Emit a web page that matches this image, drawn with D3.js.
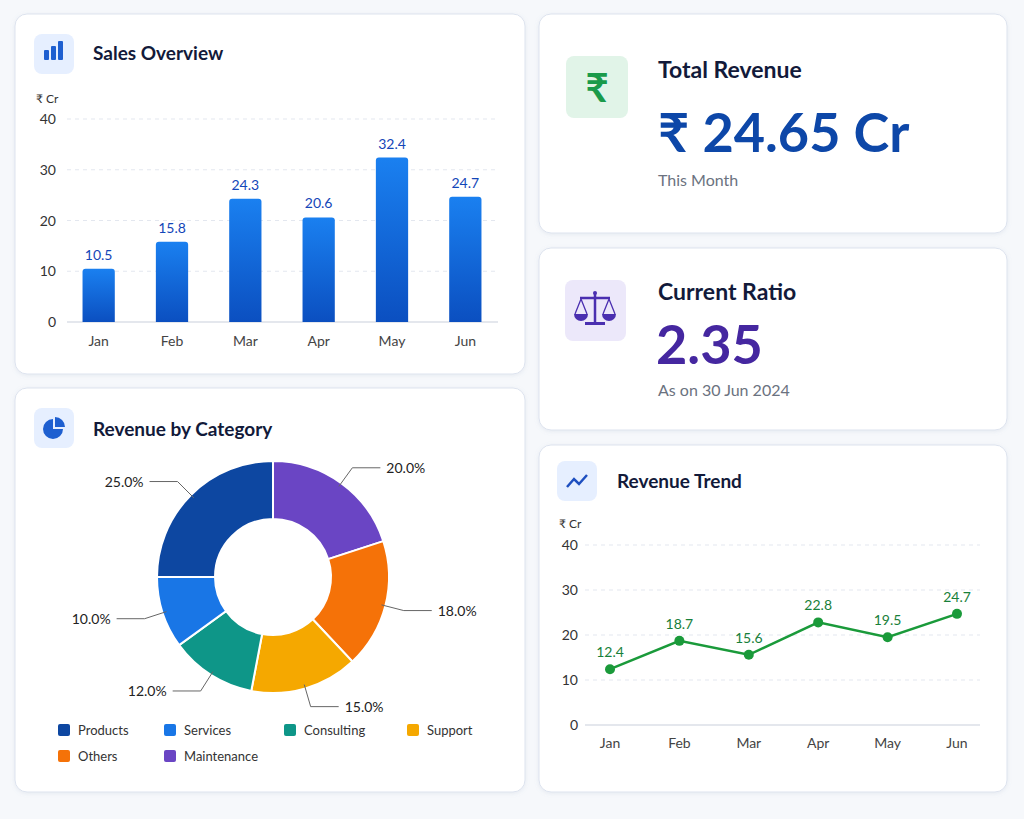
<!DOCTYPE html><html><head><meta charset="utf-8">
<script src="https://cdn.jsdelivr.net/npm/d3@7"></script>
<style>body{margin:0;background:#f6f8fb;font-family:Lato,"Open Sans",sans-serif}</style></head><body>
<svg id="c" width="1024" height="819"></svg>
<script>
const months=["Jan","Feb","Mar","Apr","May","Jun"];
const salesValues=[10.5,15.8,24.3,20.6,32.4,24.7];
const trendValues=[12.4,18.7,15.6,22.8,19.5,24.7];
const yTicks=[0,10,20,30,40];
const categories=["Products","Services","Consulting","Support","Others","Maintenance"];
const catShares=[25,10,12,15,18,20];
const catColors=["#0d47a1","#1976e6","#0e9688","#f5a800","#f57208","#6a45c4"];
const pieOrder=["Maintenance","Others","Support","Consulting","Services","Products"];

const svg=d3.select("#c");
svg.append("rect").attr("width",1024).attr("height",819).attr("fill","#f6f8fb");
const defs=svg.append("defs");
const sh=defs.append("filter").attr("id","sh").attr("x","-5%").attr("y","-5%").attr("width","110%").attr("height","115%");
sh.append("feDropShadow").attr("dx",0).attr("dy",1).attr("stdDeviation",2).attr("flood-color","#8090b0").attr("flood-opacity",0.15);
const bg=defs.append("linearGradient").attr("id","bg").attr("x1",0).attr("y1",0).attr("x2",0).attr("y2",1);
bg.append("stop").attr("offset","0%").attr("stop-color","#1a80f0");
bg.append("stop").attr("offset","100%").attr("stop-color","#0b4fc0");

function card(x,y,w,h){svg.append("rect").attr("x",x).attr("y",y).attr("width",w).attr("height",h).attr("rx",12)
 .attr("fill","#fff").attr("stroke","#dde3ee").attr("filter","url(#sh)");}
function iconBox(x,y,s,fill){svg.append("rect").attr("x",x).attr("y",y).attr("width",s).attr("height",s).attr("rx",8).attr("fill",fill);}
function title(x,y,t,sz){svg.append("text").attr("x",x).attr("y",y).text(t).attr("font-size",sz||19).attr("font-weight",700).attr("fill","#121a3a");}

card(15,14,510,360);card(15,388,510,404);card(539,14,468,219);card(539,248,468,182);card(539,445,468,347);

// Sales Overview
iconBox(34,34,40,"#e6efff");
[[44,50,5,10],[51,46,5,14],[58,41,5,19]].forEach(b=>svg.append("rect").attr("x",b[0]).attr("y",b[1]).attr("width",b[2]).attr("height",b[3]).attr("rx",1).attr("fill","#1e5fd0"));
title(93,60,"Sales Overview");
svg.append("text").attr("x",36).attr("y",103).text("₹ Cr").attr("font-size",12).attr("fill","#333");
const y1=d3.scaleLinear().domain([0,40]).range([322,119]);
const x1=d3.scaleBand().domain(months).range([62,502]).paddingInner(0.56).paddingOuter(0.28);
yTicks.forEach(t=>{
 svg.append("line").attr("x1",67).attr("x2",498).attr("y1",y1(t)).attr("y2",y1(t)).attr("stroke",t?"#e3e7ef":"#c9cfdb").attr("stroke-dasharray",t?"4,4":null);
 svg.append("text").attr("x",56).attr("y",y1(t)+5).attr("text-anchor","end").text(t).attr("font-size",14).attr("fill","#333");});
months.forEach((m,i)=>{
 const v=salesValues[i];
 svg.append("path").attr("d",`M${x1(m)},${y1(0)}V${y1(v)+3}q0,-3 3,-3h${x1.bandwidth()-6}q3,0 3,3V${y1(0)}Z`).attr("fill","url(#bg)");
 svg.append("text").attr("x",x1(m)+x1.bandwidth()/2).attr("y",y1(v)-9).attr("text-anchor","middle").text(v).attr("font-size",14).attr("fill","#1346b8");
 svg.append("text").attr("x",x1(m)+x1.bandwidth()/2).attr("y",346).attr("text-anchor","middle").text(m).attr("font-size",14).attr("fill","#444");
});

// Revenue by Category
iconBox(34,408,40,"#e6efff");
svg.append("path").attr("d",d3.arc().innerRadius(0).outerRadius(10).startAngle(Math.PI/2).endAngle(Math.PI*2)()).attr("transform","translate(53,429)").attr("fill","#1e5fd0");
svg.append("path").attr("d",d3.arc().innerRadius(0).outerRadius(10).startAngle(0).endAngle(Math.PI/2)()).attr("transform","translate(55,427)").attr("fill","#1e5fd0");
title(93,436,"Revenue by Category");
const pieData=pieOrder.map(n=>({name:n,v:catShares[categories.indexOf(n)],c:catColors[categories.indexOf(n)]}));
const arcs=d3.pie().sort(null).value(d=>d.v)(pieData);
const g=svg.append("g").attr("transform","translate(273,577)");
const arc=d3.arc().innerRadius(58).outerRadius(116);
g.selectAll("path.s").data(arcs).join("path").attr("d",arc).attr("fill",d=>d.data.c).attr("stroke","#fff").attr("stroke-width",2);
arcs.forEach(a=>{
 const m=(a.startAngle+a.endAngle)/2, right=Math.sin(m)>0;
 const p1=[Math.sin(m)*112,-Math.cos(m)*112], p2=[Math.sin(m)*135,-Math.cos(m)*135];
 const p3=[p2[0]+(right?28:-28),p2[1]];
 g.append("polyline").attr("points",[p1,p2,p3].map(p=>p.join(",")).join(" ")).attr("fill","none").attr("stroke","#666").attr("stroke-width",1);
 g.append("text").attr("x",p3[0]+(right?6:-6)).attr("y",p3[1]+5).attr("text-anchor",right?"start":"end").text(a.data.v.toFixed(1)+"%").attr("font-size",14).attr("fill","#222");
});
const legPos=[[58,730],[164,730],[284,730],[407,730],[58,756],[164,756]];
categories.forEach((c,i)=>{
 svg.append("rect").attr("x",legPos[i][0]).attr("y",legPos[i][1]-6).attr("width",12).attr("height",12).attr("rx",2).attr("fill",catColors[i]);
 svg.append("text").attr("x",legPos[i][0]+20).attr("y",legPos[i][1]+5).text(c).attr("font-size",13).attr("fill","#333");
});

// Total Revenue
iconBox(566,56,62,"#e1f4e8");
svg.append("text").attr("x",597).attr("y",102).attr("text-anchor","middle").text("₹").attr("font-size",40).attr("font-weight",700).attr("fill","#1a9a4a");
title(658,78,"Total Revenue",23);
svg.append("text").attr("x",658).attr("y",152).text("₹ 24.65 Cr").attr("font-size",54).attr("font-weight",700).attr("fill","#0d47a8");
svg.append("text").attr("x",658).attr("y",186).text("This Month").attr("font-size",16).attr("fill","#6b7280");

// Current Ratio
iconBox(565,280,61,"#ece8fa");
const sc=svg.append("g").attr("fill","#4a2fb0").attr("stroke","#4a2fb0");
sc.append("line").attr("x1",595).attr("x2",595).attr("y1",293).attr("y2",323).attr("stroke-width",2.5);
sc.append("line").attr("x1",580).attr("x2",610).attr("y1",298).attr("y2",298).attr("stroke-width",2.5);
sc.append("rect").attr("x",585).attr("y",322).attr("width",20).attr("height",3).attr("stroke","none");
sc.append("circle").attr("cx",595).attr("cy",293).attr("r",2).attr("stroke","none");
[[581,314],[609,314]].forEach(p=>{
 sc.append("path").attr("d",`M${p[0]-7},${p[1]}a7,7 0 0,0 14,0Z`).attr("stroke","none");
 sc.append("path").attr("d",`M${p[0]-6},${p[1]}L${p[0]},${p[1]-15}L${p[0]+6},${p[1]}`).attr("fill","none").attr("stroke-width",1.3);
});
title(658,300,"Current Ratio",23);
svg.append("text").attr("x",656).attr("y",364).text("2.35").attr("font-size",54).attr("font-weight",700).attr("fill","#4527a0");
svg.append("text").attr("x",658).attr("y",396).text("As on 30 Jun 2024").attr("font-size",16).attr("fill","#6b7280");

// Revenue Trend
iconBox(557,461,40,"#e6efff");
svg.append("polyline").attr("points","567,487 574,479 579,484 587,475").attr("fill","none").attr("stroke","#1e4fc0").attr("stroke-width",2.5);
title(617,488,"Revenue Trend");
svg.append("text").attr("x",559).attr("y",528).text("₹ Cr").attr("font-size",12).attr("fill","#333");
const y2=d3.scaleLinear().domain([0,40]).range([725,545]);
const x2=d3.scalePoint().domain(months).range([610,957]);
yTicks.forEach(t=>{
 svg.append("line").attr("x1",585).attr("x2",980).attr("y1",y2(t)).attr("y2",y2(t)).attr("stroke",t?"#e3e7ef":"#c9cfdb").attr("stroke-dasharray",t?"4,4":null);
 svg.append("text").attr("x",578).attr("y",y2(t)+5).attr("text-anchor","end").text(t).attr("font-size",14).attr("fill","#333");});
svg.append("path").datum(trendValues).attr("d",d3.line().x((d,i)=>x2(months[i])).y(d=>y2(d))).attr("fill","none").attr("stroke","#1a9a3a").attr("stroke-width",2.5);
trendValues.forEach((v,i)=>{
 svg.append("circle").attr("cx",x2(months[i])).attr("cy",y2(v)).attr("r",5).attr("fill","#1a9a3a");
 svg.append("text").attr("x",x2(months[i])).attr("y",y2(v)-12).attr("text-anchor","middle").text(v).attr("font-size",14).attr("fill","#18803a");
 svg.append("text").attr("x",x2(months[i])).attr("y",748).attr("text-anchor","middle").text(months[i]).attr("font-size",14).attr("fill","#444");
});
</script></body></html>
